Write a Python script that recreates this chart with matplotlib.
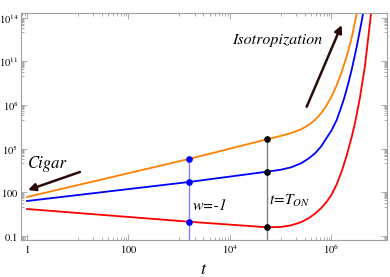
import matplotlib
matplotlib.use('Agg')
import matplotlib.pyplot as plt
import numpy as np
from matplotlib.ticker import FixedLocator, NullFormatter

plt.rcParams['font.family'] = ['STIXGeneral', 'DejaVu Serif']
plt.rcParams['mathtext.fontset'] = 'stix'

COLOUR_ORANGE = '#ff8000'
COLOUR_BLUE = '#0000ff'
COLOUR_RED = '#ff0000'
COLOUR_ARROW = '#2b0a0a'
COLOUR_FRAME = '#a0a0a0'

# values, kept as log10 exponents
# index 1 is the w=-1 line, index 2 is t=T_ON
orange_log_t = [0, 3.186, 4.729, 5.0, 5.2, 5.4, 5.55, 5.681, 5.8, 5.9, 6.0, 6.1, 6.2, 6.3, 6.4, 6.483, 6.53]
orange_log_y = [1.68, 4.29, 5.646, 5.879, 6.069, 6.33, 6.63, 7.0, 7.46, 7.96, 8.58, 9.34, 10.26, 11.36, 12.66, 14.05, 14.85]

blue_log_t = [0, 3.186, 4.729, 5.0, 5.2, 5.4, 5.55, 5.681, 5.8, 5.878, 6.0, 6.102, 6.173, 6.25, 6.33, 6.4, 6.5, 6.6, 6.64]
blue_log_y = [1.405, 2.71, 3.42, 3.555, 3.715, 3.995, 4.325, 4.70, 5.17, 5.60, 6.25, 6.97, 7.66, 8.47, 9.47, 10.46, 12.06, 13.86, 14.7]

red_log_t = [0, 3.186, 4.729, 5.0, 5.2, 5.4, 5.55, 5.681, 5.8, 5.9, 6.0, 6.1, 6.2, 6.3, 6.4, 6.46, 6.56, 6.66, 6.76, 6.8]
red_log_y = [0.856, -0.017, -0.40, -0.38, -0.27, -0.05, 0.22, 0.55, 0.93, 1.33, 1.83, 2.53, 3.43, 4.53, 5.83, 6.7, 8.5, 10.7, 13.7, 14.9]

x_major = [1, 100, 1e4, 1e6]
x_labels = ['$1$', '$100$', '$10^{4}$', '$10^{6}$']
y_major = [0.1, 100, 1e5, 1e8, 1e11, 1e14]
y_labels = ['$0.1$', '$100$', '$10^{5}$', '$10^{8}$', '$10^{11}$', '$10^{14}$']

curves = [
    (orange_log_t, orange_log_y, COLOUR_ORANGE),
    (blue_log_t, blue_log_y, COLOUR_BLUE),
    (red_log_t, red_log_y, COLOUR_RED),
]

fig = plt.figure(figsize=(3.9, 2.77), dpi=100)
ax = fig.add_axes([0.0538, 0.1336, 0.9385, 0.8195])
ax.set_xscale('log')
ax.set_yscale('log')
ax.set_xlim(10 ** -0.118, 10 ** 7.094)
ax.set_ylim(10 ** -1.275, 10 ** 14.33)

for log_t, log_y, colour in curves:
    ax.plot(10 ** np.array(log_t), 10 ** np.array(log_y), color=colour, lw=1.3, zorder=2)

t_w = 10 ** orange_log_t[1]
t_on = 10 ** orange_log_t[2]
w_vals = [10 ** c[1][1] for c in curves]
on_vals = [10 ** c[1][2] for c in curves]
ax.vlines(t_w, 1e-3, w_vals[0], color='#8080ff', lw=1.0, zorder=1)
ax.vlines(t_on, 1e-3, on_vals[0], color='#808080', lw=1.0, zorder=1)
ax.plot([t_w] * 3, w_vals, 'o', color=COLOUR_BLUE, ms=3.8, zorder=3)
ax.plot([t_on] * 3, on_vals, 'o', color='black', ms=3.8, zorder=3)

# mathematica-like ticks: minor ticks only in the decade under each major
x_minor = [j * m / 10 for m in x_major for j in range(1, 10)]
y_minor = [j * m / 10 for m in y_major for j in range(1, 10)]
ax.xaxis.set_major_locator(FixedLocator(x_major))
ax.xaxis.set_minor_locator(FixedLocator(x_minor))
ax.set_xticklabels(x_labels)
ax.xaxis.set_minor_formatter(NullFormatter())
ax.yaxis.set_major_locator(FixedLocator(y_major))
ax.yaxis.set_minor_locator(FixedLocator(y_minor))
ax.set_yticklabels(y_labels)
ax.yaxis.set_minor_formatter(NullFormatter())

ax.tick_params(which='both', direction='in', top=True, right=True, color=COLOUR_FRAME,
               width=0.6, labelsize=7.5, pad=2)
ax.tick_params(which='major', length=4)
ax.tick_params(which='minor', length=2)
for spine in ax.spines.values():
    spine.set_color(COLOUR_FRAME)
    spine.set_linewidth(0.8)

ax.set_xlabel('$t$', fontsize=13, labelpad=4)

ax.text(0.0191, 0.317, 'Cigar', transform=ax.transAxes, fontsize=12, style='italic',
        ha='left', va='baseline')
ax.text(0.5757, 0.863, 'Isotropization', transform=ax.transAxes, fontsize=11.5,
        style='italic', ha='left', va='baseline')
ax.text(0.469, 0.132, 'w=-1', transform=ax.transAxes, fontsize=11.5, style='italic',
        ha='left', va='baseline')
ax.text(0.678, 0.154, '$t\\!=\\!T_{ON}$', transform=ax.transAxes, fontsize=11,
        ha='left', va='baseline')

arrow_props = dict(arrowstyle='-|>', color=COLOUR_ARROW, lw=1.8, mutation_scale=11,
                   shrinkA=0, shrinkB=0)
ax.annotate('', xy=(0.0191, 0.220), xytext=(0.161, 0.2996), xycoords='axes fraction',
            textcoords='axes fraction', arrowprops=arrow_props)
ax.annotate('', xy=(0.876, 0.947), xytext=(0.7806, 0.587), xycoords='axes fraction',
            textcoords='axes fraction', arrowprops=arrow_props)

fig.savefig('out.png', dpi=100)
